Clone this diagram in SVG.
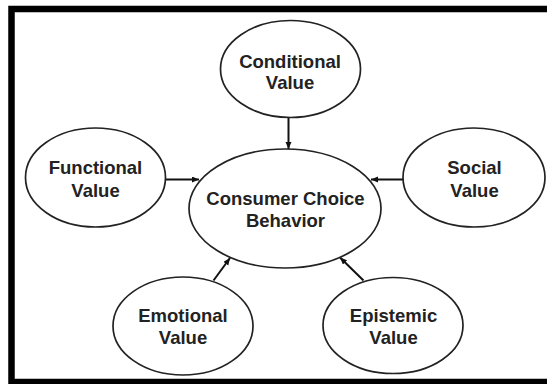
<svg xmlns="http://www.w3.org/2000/svg" width="547" height="384" viewBox="0 0 547 384">
<style>
.node ellipse{fill:#fff;stroke:#222;stroke-width:1.7}
.node text{font-family:"Liberation Sans",Arial,sans-serif;font-weight:bold;font-size:18.5px;fill:#222;text-anchor:middle}
.conn line{stroke:#111;stroke-width:2;marker-end:url(#arr)}
</style>
<defs>
<marker id="arr" markerUnits="userSpaceOnUse" markerWidth="8" markerHeight="7" refX="7" refY="3" orient="auto">
<path d="M0,0 L7,3 L0,6 z" fill="#111"/>
</marker>
</defs>
<rect x="0" y="0" width="547" height="384" fill="#fff"/>
<rect id="frame" x="11.5" y="9" width="560" height="373" fill="none" stroke="#000" stroke-width="6.5"/>
<g id="connectors" class="conn">
<line x1="288.5" y1="118" x2="288.5" y2="149"/>
<line x1="166" y1="179.5" x2="199" y2="179.5"/>
<line x1="404" y1="179.5" x2="371" y2="179.5"/>
<line x1="213.5" y1="280.5" x2="230" y2="258"/>
<line x1="363.5" y1="280.5" x2="340" y2="257.5"/>
</g>
<g id="node-center" class="node">
<ellipse cx="285" cy="208.5" rx="96" ry="59.5"/>
<text x="285.5" y="204.5">Consumer Choice</text>
<text x="285.5" y="227">Behavior</text>
</g>
<g id="node-conditional" class="node">
<ellipse cx="290.5" cy="69" rx="70" ry="48.5"/>
<text x="290" y="68">Conditional</text>
<text x="290" y="89">Value</text>
</g>
<g id="node-functional" class="node">
<ellipse cx="95.5" cy="177.5" rx="70" ry="49.5"/>
<text x="95.5" y="174">Functional</text>
<text x="95.5" y="197">Value</text>
</g>
<g id="node-social" class="node">
<ellipse cx="474" cy="177.5" rx="71" ry="49.5"/>
<text x="474.5" y="174">Social</text>
<text x="474.5" y="197">Value</text>
</g>
<g id="node-emotional" class="node">
<ellipse cx="183" cy="326" rx="70" ry="49"/>
<text x="183" y="321.5">Emotional</text>
<text x="183" y="343.5">Value</text>
</g>
<g id="node-epistemic" class="node">
<ellipse cx="393" cy="325.5" rx="70" ry="48"/>
<text x="393.5" y="321.5">Epistemic</text>
<text x="393.5" y="343.5">Value</text>
</g>
</svg>
